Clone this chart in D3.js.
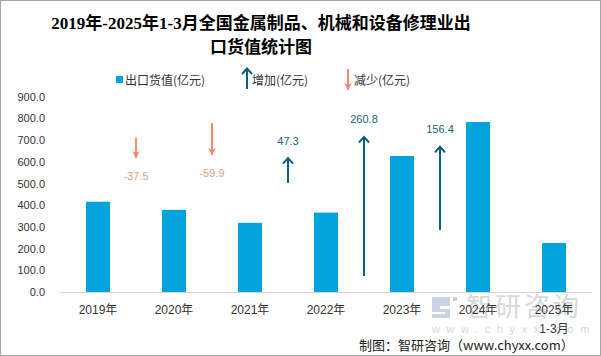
<!DOCTYPE html>
<html><head><meta charset="utf-8">
<script src="https://cdn.jsdelivr.net/npm/d3@7"></script>
<style>
body{margin:0;background:#fff;}
svg{display:block;}
</style></head>
<body>
<svg id="c" width="601" height="356"></svg>
<script>
const categories = ["2019年","2020年","2021年","2022年","2023年","2024年","2025年"];
const subLabels = ["","","","","","","1-3月"];
const exportValues = [416.0, 378.5, 318.6, 365.9, 626.7, 783.1, 226.0];
const changeValues = [-37.5, -59.9, 47.3, 260.8, 156.4];
// arrow start values on the hidden secondary axis
const arrowStart = [287.9, 315.9, 203.7, 29.9, 115.9];
const yTicks = [0,100,200,300,400,500,600,700,800,900];

const svg = d3.select("#c");
const W = 601, H = 356;
const pLeft = 60, pRight = 592, pTop = 96.7, pBottom = 292;

svg.append("rect").attr("x",0.5).attr("y",0.5).attr("width",W-1).attr("height",H-1)
  .attr("fill","#fff").attr("stroke","#a6a6a6");

const x = d3.scaleBand().domain(categories).range([pLeft,pRight]).paddingInner(0.684).paddingOuter(0.342);
const y = d3.scaleLinear().domain([0,900]).range([pBottom,pTop]);
const y2 = d3.scaleLinear().domain([0,365]).range([pBottom,pTop]);

// watermark (behind)
const wm = svg.append("g");
wm.append("path").attr("d","M432,297h18v9h-10v3h10v9h-18v-4h13v-2h-13z M453,297h4v4h-4z")
  .attr("fill","#c9d3e3");
wm.append("text").attr("x",466).attr("y",316).attr("font-family","'Noto Sans CJK SC',sans-serif").attr("font-size",26)
  .attr("letter-spacing",3).attr("fill","#d5d8dc").text("智研咨询");
wm.append("text").attr("x",432).attr("y",333).attr("font-family","'Liberation Sans',sans-serif").attr("font-size",11)
  .attr("fill","#d5d8dc").attr("letter-spacing",6.6).text("www.chyxx.com");

// title
const title = svg.append("text").attr("text-anchor","middle")
  .attr("font-family","'Liberation Serif','Noto Sans CJK SC',serif").attr("font-weight","bold")
  .attr("font-size",17).attr("fill","#000");
title.append("tspan").attr("x",261).attr("y",29).text("2019年-2025年1-3月全国金属制品、机械和设备修理业出");
title.append("tspan").attr("x",261).attr("y",53).text("口货值统计图");

// legend
const lg = svg.append("g").attr("font-family","'Noto Sans CJK SC','Liberation Sans',sans-serif").attr("font-size",12).attr("fill","#333");
lg.append("rect").attr("x",116).attr("y",76).attr("width",7).attr("height",7).attr("fill","#00a3dc");
lg.append("text").attr("x",125).attr("y",84.5).text("出口货值(亿元)");
lg.append("text").attr("x",252).attr("y",84.5).text("增加(亿元)");
lg.append("text").attr("x",354).attr("y",84.5).text("减少(亿元)");

const upColor = "#0b5f80", downColor = "#f08b72";
function arrow(g, xx, y0, y1, color, filled){
  g.append("line").attr("x1",xx).attr("x2",xx).attr("y1",y0).attr("y2",y1)
    .attr("stroke",color).attr("stroke-width",2);
  const dir = y1 < y0 ? 1 : -1;
  if(filled){
    g.append("path").attr("d",`M${xx-4},${y1+dir*7}L${xx},${y1}L${xx+4},${y1+dir*7}L${xx},${y1+dir*5}Z`).attr("fill",color);
  } else {
    g.append("path").attr("d",`M${xx-5},${y1+dir*6}L${xx},${y1+0.5*dir}L${xx+5},${y1+dir*6}`)
      .attr("fill","none").attr("stroke",color).attr("stroke-width",2);
  }
}
arrow(svg, 247, 89, 68, upColor, false);
arrow(svg, 348, 69, 90, downColor, true);

// y axis labels
const ya = svg.append("g").attr("font-family","'Liberation Sans',sans-serif").attr("font-size",11).attr("fill","#333");
ya.selectAll("text").data(yTicks).join("text")
  .attr("x",45).attr("y",d=>y(d)+4).attr("text-anchor","end").text(d=>d.toFixed(1));

// bars
svg.selectAll("rect.bar").data(exportValues).join("rect").attr("class","bar")
  .attr("x",(d,i)=>x(categories[i])).attr("width",x.bandwidth())
  .attr("y",d=>y(d)).attr("height",d=>y(0)-y(d)).attr("fill","#00a3dc");

// axis line
svg.append("line").attr("x1",pLeft).attr("x2",pRight).attr("y1",pBottom+0.5).attr("y2",pBottom+0.5)
  .attr("stroke","#d9d9d9").attr("stroke-width",1);

// x labels
const xa = svg.append("g").attr("font-family","'Liberation Sans','Noto Sans CJK SC',sans-serif").attr("font-size",12).attr("fill","#333").attr("text-anchor","middle");
categories.forEach((c,i)=>{
  const cx = x(c)+x.bandwidth()/2;
  xa.append("text").attr("x",cx).attr("y",314).text(c);
  if(subLabels[i]) xa.append("text").attr("x",cx).attr("y",333).text(subLabels[i]);
});

// change arrows
changeValues.forEach((v,i)=>{
  const xx = x(categories[i]) + x.bandwidth()/2 + x.step()/2;
  const s = arrowStart[i], e = s + v;
  const ys = y2(s), ye = y2(e);
  const up = v > 0;
  arrow(svg, xx, ys, ye, up ? upColor : downColor, !up);
  svg.append("text").attr("x",xx).attr("y", up ? ye-13 : ye+22)
    .attr("text-anchor","middle").attr("font-family","'Liberation Sans',sans-serif").attr("font-size",11)
    .attr("fill", up ? "#1d5f7e" : "#f4977f").text(v.toFixed(1));
});

// footer
svg.append("text").attr("x",359).attr("y",350).attr("font-family","'Noto Sans CJK SC','Liberation Sans',sans-serif")
  .attr("font-size",13).attr("fill","#222").text("制图：智研咨询（www.chyxx.com）");
</script>
</body></html>
